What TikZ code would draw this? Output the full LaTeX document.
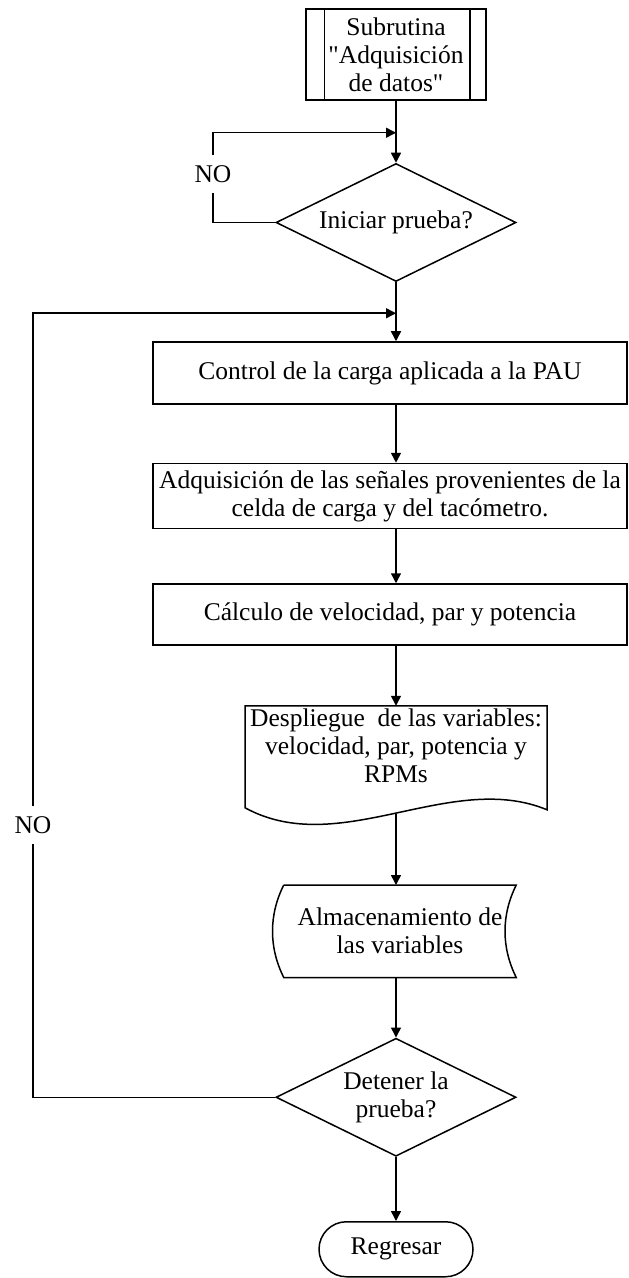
\documentclass[tikz,border=0pt]{standalone}
\usepackage{fontspec}
\setmainfont{Liberation Serif}
\usetikzlibrary{shapes.geometric,arrows.meta,positioning,calc}

\begin{document}
\begin{tikzpicture}[
    x=0.5pt, y=0.5pt,
    font=\fontsize{12.75}{14}\selectfont,
    line width=0.75pt,
    subr/.style={rectangle, draw, align=center, minimum width=90pt, minimum height=45.5pt, inner sep=1pt},
    decision/.style={diamond, draw, aspect=2, align=center, minimum width=120pt, minimum height=59pt, inner sep=0pt},
    proc/.style={rectangle, draw, align=center, minimum width=237pt, minimum height=31pt, inner xsep=2pt, inner ysep=1pt},
    docu/.style={rectangle, align=center, minimum width=151pt, inner sep=0pt},
    store/.style={rectangle, align=center, minimum width=115.5pt, minimum height=45.5pt, inner sep=0pt},
    term/.style={rectangle, draw, rounded corners=13.75pt, minimum width=77pt, minimum height=27.5pt},
    nolabel/.style={inner xsep=1pt, inner ysep=5pt},
    arrow/.style={-{Triangle[length=5pt, width=5pt]}}
]
    \useasboundingbox (0,0) rectangle (628,-1278);

    \node [subr] (sub) at (396,-54.5) {Subrutina\\\textquotedbl Adquisición\\de datos\textquotedbl};
    \node [decision, below=31pt of sub] (d1) {Iniciar prueba?};
    \node [proc, below=29.5pt of d1, xshift=-3pt] (box1) {Control de la carga aplicada a la PAU};
    \node [proc, below=29pt of box1, minimum height=32.5pt] (box2) {Adquisición de las señales provenientes de la\\celda de carga y del tacómetro.};
    \node [proc, below=27pt of box2, minimum height=30.5pt] (box3) {Cálculo de velocidad, par y potencia};
    \node [docu] (doc) at ($(box3.south -| sub)+(0,-100)$) {Despliegue\ \ de las variables:\\velocidad, par, potencia y\\RPMs};
    \node [store] (st) at ($(doc.center)+(4,-185.5)$) {Almacenamiento de\\las variables};
    \node [decision, below=30pt of st, xshift=-2pt] (d2) {Detener la\\prueba?};
    \node [term, below=32pt of d2] (ret) {Regresar};

    \node [nolabel] (no1) at (213,-174) {NO};
    \node [nolabel] (no2) at (33,-825) {NO};

    \coordinate (j1) at ($(sub.south)+(0,-32)$);
    \coordinate (j2) at ($(d1.south)+(0,-31)$);

    \draw ($(sub.north west)+(19,0)$) -- ($(sub.south west)+(19,0)$);
    \draw ($(sub.north east)+(-17,0)$) -- ($(sub.south east)+(-17,0)$);

    \coordinate (doctop) at ($(doc.center)+(0,40)$);
    \coordinate (docwave) at ($(doc.center)+(0,-68)$);
    \draw ($(doc.center)+(-151,40)$) -- ($(doc.center)+(151,40)$) -- ($(doc.center)+(151,-64)$)
        .. controls ($(doc.center)+(54,-24)$) and ($(doc.center)+(-56,-114)$) .. ($(doc.center)+(-151,-62)$) -- cycle;

    \draw (st.north west) -- (st.north east)
        .. controls ($(st.north east)+(-15,-30)$) and ($(st.south east)+(-15,30)$) .. (st.south east)
        -- (st.south west)
        .. controls ($(st.south west)+(-15,30)$) and ($(st.north west)+(-15,-30)$) .. (st.north west);

    \draw [arrow] (sub) -- (d1);
    \draw (d1.west) -| (no1.south);
    \draw [arrow] (no1.north) |- (j1);
    \draw [arrow] (d1.south) -- (d1.south |- box1.north);
    \draw [arrow] (box1.south -| d1) -- (box2.north -| d1);
    \draw [arrow] (box2.south -| d1) -- (box3.north -| d1);
    \draw [arrow] (box3.south -| doc) -- (doctop);
    \draw [arrow] (docwave) -- (st.north -| doc);
    \draw [arrow] (st.south -| d2) -- (d2.north);
    \draw [arrow] (d2) -- (ret);
    \draw (d2.west) -| (no2.south);
    \draw [arrow] (no2.north) |- (j2);
\end{tikzpicture}
\end{document}
